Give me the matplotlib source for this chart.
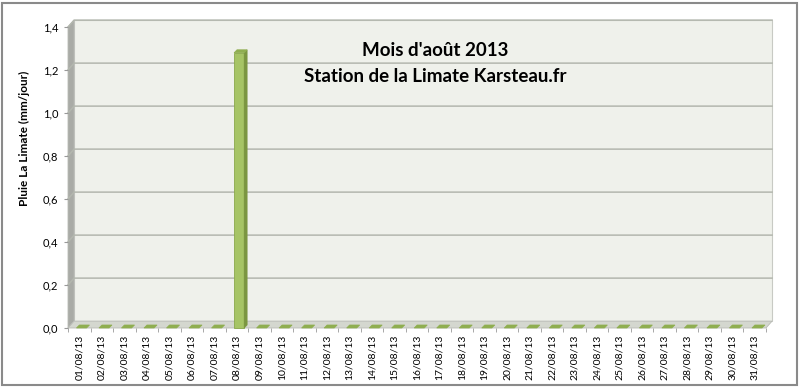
import matplotlib.pyplot as plt
from matplotlib.patches import Polygon, Rectangle

# Daily rainfall, August 2013
days = ['%02d/08/13' % d for d in range(1, 32)]
rain = [0, 0, 0, 0, 0, 0, 0, 1.28, 0, 0, 0, 0, 0, 0, 0, 0,
        0, 0, 0, 0, 0, 0, 0, 0, 0, 0, 0, 0, 0, 0, 0]
yticks = [0, 0.2, 0.4, 0.6, 0.8, 1.0, 1.2, 1.4]

plt.rcParams['font.family'] = ['Lato', 'DejaVu Sans']

fig = plt.figure(figsize=(8, 3.89), dpi=100)
fig.patches.append(Rectangle((2 / 800, 4 / 389), 795 / 800, 382 / 389, transform=fig.transFigure,
                             fill=False, edgecolor='#8a8a8a', linewidth=1.5))
ax = fig.add_axes([68 / 800, 61 / 389, 698 / 800, 301 / 389])
ax.set_xlim(-0.5, len(days) - 0.5)
ax.set_ylim(0, 1.4)
for s in ax.spines.values():
    s.set_visible(False)
ax.patch.set_alpha(0)

# 3D depth in data units
dx, dy = 0.27, 0.032
x0, x1 = -0.5, len(days) - 0.5
ytop = 1.4

# back wall, left wall, floor
ax.add_patch(Rectangle((x0 + dx, dy), x1 - x0, ytop, facecolor='#eff1eb', edgecolor='#c8cac4',
                       linewidth=0.8, clip_on=False, zorder=0))
ax.add_patch(Polygon([(x0, 0), (x0 + dx, dy), (x0 + dx, ytop + dy), (x0, ytop)],
                     facecolor='#a9aba6', edgecolor='#b8bab5', linewidth=0.6, clip_on=False, zorder=1))
ax.add_patch(Polygon([(x0, 0), (x1, 0), (x1 + dx, dy), (x0 + dx, dy)],
                     facecolor='#d4d7cf', edgecolor='#b8bab5', linewidth=0.6, clip_on=False, zorder=1))
for y in yticks[1:]:
    ax.plot([x0, x0 + dx, x1 + dx], [y, y + dy, y + dy], color='#b3b7ae', linewidth=1.1,
            clip_on=False, zorder=1)

# bars
w = 0.45
bdx, bdy = 0.13, 0.014
for i, v in enumerate(rain):
    l, r = i - w / 2 + 0.1, i + w / 2 + 0.1
    if v > 0:
        ax.add_patch(Rectangle((l, 0), w, v, facecolor='#a6c465', edgecolor='#8aa84c',
                               linewidth=0.6, zorder=3, clip_on=False))
        ax.add_patch(Polygon([(r, 0), (r + bdx, bdy), (r + bdx, v + bdy), (r, v)],
                             facecolor='#7b9641', edgecolor='#7b9641', linewidth=0.5, zorder=3, clip_on=False))
    ax.add_patch(Polygon([(l, v), (r, v), (r + bdx, v + bdy), (l + bdx, v + bdy)],
                         facecolor='#8fae50', edgecolor='#8fae50', linewidth=0.5, zorder=4, clip_on=False))

ax.set_yticks(yticks)
ax.set_yticklabels([('%.1f' % t).replace('.', ',') for t in yticks], fontsize=8)
ax.set_xticks(range(len(days)))
ax.set_xticklabels(days, rotation=90, fontsize=7.5)
ax.set_xticks([i - 0.5 for i in range(len(days) + 1)], minor=True)
ax.tick_params(axis='x', which='major', length=0, pad=5)
ax.tick_params(axis='x', which='minor', length=3, color='#999999')
ax.tick_params(axis='y', length=3, color='#999999', pad=4)

fig.text(24 / 800, 1 - 138 / 389, 'Pluie La Limate (mm/jour)', rotation=90, ha='center', va='center',
         fontsize=8.5, fontweight='bold')
fig.text(435 / 800, 1 - 50 / 389, "Mois d'août 2013", ha='center', va='center',
         fontsize=13.5, fontweight='bold')
fig.text(435 / 800, 1 - 77 / 389, 'Station de la Limate Karsteau.fr', ha='center', va='center',
         fontsize=13.5, fontweight='bold')

fig.savefig('out.png', dpi=100)
